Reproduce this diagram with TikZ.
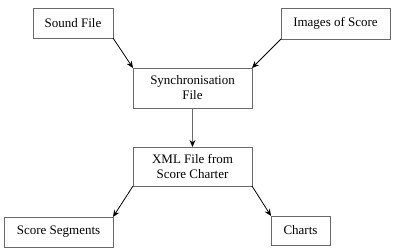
\documentclass[tikz,border=0pt]{standalone}
\usepackage{fontspec}
\setmainfont{Liberation Serif}
\usetikzlibrary{arrows.meta}
\definecolor{boxline}{RGB}{105,105,105}
\tikzset{
  box/.style={draw=boxline, line width=0.9pt, inner sep=0pt, outer sep=0pt, align=center,
    font=\fontsize{13}{15}\selectfont, text=black},
  conn/.style={line width=0.8pt, -{Stealth[length=7pt,width=6pt,color=black]}}
}
\begin{document}
\begin{tikzpicture}[x=1pt,y=-1pt]
\useasboundingbox (0,0) rectangle (400,249);
\node[box, minimum width=80pt, minimum height=30pt] (snd) at (73,23) {Sound File};
\node[box, minimum width=109pt, minimum height=31pt] (img) at (335.5,23.5) {Images of Score};
\node[box, minimum width=119pt, minimum height=40pt] (syn) at (192.5,88) {Synchronisation\\File};
\node[box, minimum width=119pt, minimum height=39pt] (xml) at (192.5,166.5) {XML File from\\Score Charter};
\node[box, minimum width=109pt, minimum height=30pt] (seg) at (58.5,232) {Score Segments};
\node[box, minimum width=59pt, minimum height=29pt] (cht) at (300.5,230.5) {Charts};
\draw[conn] (snd.south east) -- (syn.north west);
\draw[conn] (img.south west) -- (syn.north east);
\draw[conn, draw=boxline, line width=1.2pt] (syn.south) -- (xml.north);
\draw[conn] (xml.south west) -- (seg.north east);
\draw[conn] (xml.south east) -- (cht.north west);
\end{tikzpicture}
\end{document}
